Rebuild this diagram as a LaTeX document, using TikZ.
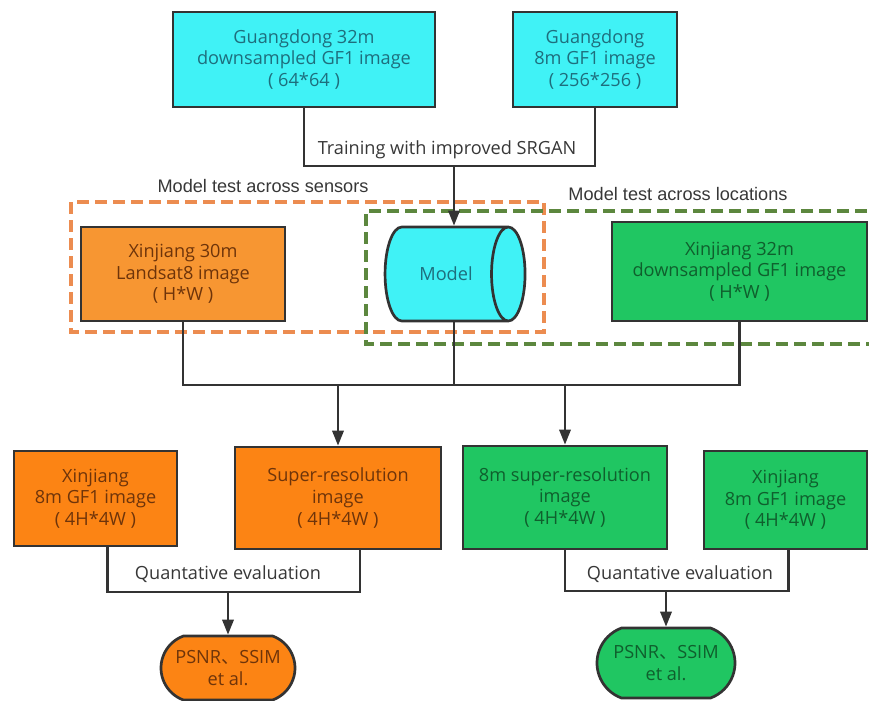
\documentclass[tikz,border=0pt]{standalone}
\usepackage{fontspec}
\setmainfont{Open Sans}
\newfontfamily\arialfont{Liberation Sans}
\newfontfamily\cjk{Noto Sans CJK SC}
\usetikzlibrary{arrows.meta,shapes.geometric,shapes.misc,calc}

\definecolor{lineclr}{RGB}{51,51,51}
\definecolor{cyanfill}{RGB}{64,242,246}
\definecolor{cyantext}{RGB}{30,110,125}
\definecolor{orangefillA}{RGB}{247,150,50}
\definecolor{orangefillB}{RGB}{252,132,20}
\definecolor{orangetext}{RGB}{110,52,10}
\definecolor{greenfill}{RGB}{32,198,98}
\definecolor{greentext}{RGB}{15,95,45}
\definecolor{orangedash}{RGB}{236,140,80}
\definecolor{greendash}{RGB}{92,135,62}
\definecolor{labelclr}{RGB}{55,55,55}

\begin{document}
\begin{tikzpicture}[x=0.03cm,y=-0.03cm,
  box/.style={draw=lineclr,line width=2.3pt,align=center,inner sep=0pt,font=\fontsize{15.5}{18.5}\selectfont},
  cyanbox/.style={box,fill=cyanfill,text=cyantext},
  orangebox/.style={box,fill=orangefillB,text=orangetext},
  greenbox/.style={box,fill=greenfill,text=greentext},
  evalbox/.style={box,rounded rectangle,rounded rectangle arc length=140},
  link/.style={draw=lineclr,line width=2pt},
  arr/.style={link,-{Triangle[length=0.45cm,width=0.34cm]}},
  frame/.style={line width=2.6pt,dash pattern=on 0.36cm off 0.18cm},
  steplabel/.style={text=labelclr,font=\fontsize{15.5}{18}\selectfont},
  framelabel/.style={text=labelclr,font=\arialfont\fontsize{15.5}{18}\selectfont}]

\useasboundingbox (0,0) rectangle (869,701);

\draw[frame,draw=orangedash] (71,202) rectangle (544,332);
\draw[frame,draw=greendash] (885,211) -- (366,211) -- (366,344) -- (885,344);
\node[framelabel] (sensorlbl) at (263,186) {Model test across sensors};
\node[framelabel] (locationlbl) at (678,194) {Model test across locations};

\node[cyanbox,minimum width=7.86cm,minimum height=2.85cm] (g32) at (304,59.5) {Guangdong 32m\\downsampled GF1 image\\( 64*64 )};
\node[cyanbox,minimum width=4.92cm,minimum height=2.85cm] (g8) at (595,59.5) {Guangdong\\8m GF1 image\\( 256*256 )};

\node[box,fill=orangefillA,text=orangetext,minimum width=6.12cm,minimum height=2.82cm] (x30) at (183,274) {Xinjiang 30m\\Landsat8 image\\( H*W )};
\node[box,cylinder,shape border rotate=0,aspect=2.4,fill=cyanfill,text=cyantext,minimum width=2.82cm,minimum height=4.2cm] (model) at (446,274) {Model};
\node[greenbox,minimum width=7.65cm,minimum height=2.97cm] (x32) at (739.5,271.5) {Xinjiang 32m\\downsampled GF1 image\\( H*W )};

\node[orangebox,minimum width=4.89cm,minimum height=2.85cm] (gto) at (95.5,498.5) {Xinjiang\\8m GF1 image\\( 4H*4W )};
\node[orangebox,minimum width=6.18cm,minimum height=3.06cm] (sro) at (338,498) {Super-resolution\\image\\( 4H*4W )};
\node[greenbox,minimum width=6.12cm,minimum height=3.09cm] (srg) at (565,497.5) {8m super-resolution\\image\\( 4H*4W )};
\node[greenbox,minimum width=4.89cm,minimum height=2.94cm] (gtg) at (785.5,500) {Xinjiang\\8m GF1 image\\( 4H*4W )};

\node[evalbox,fill=orangefillB,text=orangetext,minimum width=4.02cm,minimum height=1.92cm] (evo) at (228,668) {PSNR{\cjk 、}SSIM\\et al.};
\node[evalbox,fill=greenfill,text=greentext,minimum width=4.14cm,minimum height=2.1cm] (evg) at (666,663) {PSNR{\cjk 、}SSIM\\et al.};

\coordinate (tj) at (454,166);
\draw[link] (g32.south) |- (tj) -| (g8.south);
\draw[arr] (tj) -- (tj |- model.north);
\node[steplabel] (trainlbl) at (447,150) {Training with improved SRGAN};

\coordinate (mj) at (454,385);
\draw[link] (x30.south) |- (mj) -| (x32.south);
\draw[link] (mj |- model.south) -- (mj);
\draw[arr] (sro.north |- mj) -- (sro.north);
\draw[arr] (srg.north |- mj) -- (srg.north);

\coordinate (qo) at (228,592);
\draw[link] ($(gto.south)+(12,0)$) |- (qo) -| ($(sro.south)+(22,0)$);
\draw[arr] (qo) -- (evo.north);
\node[steplabel] (evallblo) at (228,574) {Quantative evaluation};

\coordinate (qg) at (666,591);
\draw[link] (srg.south) |- (qg) -| ($(gtg.south)+(3,0)$);
\draw[arr] (qg) -- (evg.north);
\node[steplabel] (evallblg) at (680,574) {Quantative evaluation};
\end{tikzpicture}
\end{document}
